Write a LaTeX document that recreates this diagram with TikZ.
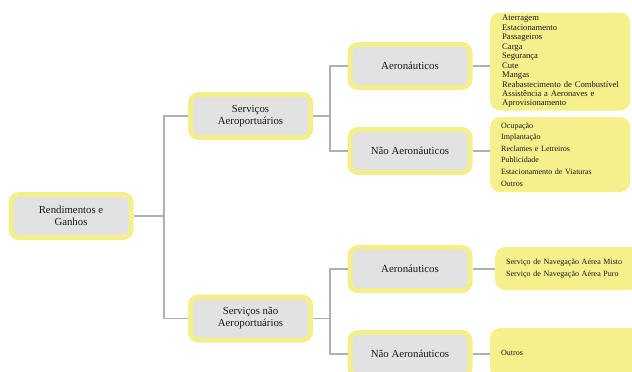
\documentclass[tikz,border=0pt]{standalone}
\usepackage{fontspec}
\setmainfont{Liberation Serif}
\definecolor{ybord}{HTML}{F5EE8C}
\definecolor{gfill}{HTML}{E2E2E2}
\definecolor{leaf}{HTML}{F5EF8C}
\definecolor{lgray}{HTML}{B0B0B0}
\definecolor{txt}{HTML}{1A1A1A}
\tikzset{
  catbox/.style={draw=ybord, line width=5pt, fill=gfill, rounded corners=8pt,
    minimum width=120pt, minimum height=43pt, align=center, text=txt,
    font=\fontsize{10.8}{12}\selectfont, inner sep=2pt},
  leafbox/.style={fill=leaf, rounded corners=10pt, draw=none, align=left, text=txt,
    anchor=west, inner ysep=0pt},
  conn/.style={draw=lgray, line width=1.1pt}
}
\begin{document}
\begin{tikzpicture}[x=1pt,y=1pt]
\useasboundingbox (0,0) rectangle (632,-372);
\clip (0,0) rectangle (632,-372);
% category boxes
\node[catbox] (root) at (71,-216) {Rendimentos e\\Ganhos};
\node[catbox] (sa) at (250.5,-116) {Serviços\\Aeroportuários};
\node[catbox] (sna) at (250.5,-318.5) {Serviços não\\Aeroportuários};
\node[catbox] (a1) at (410,-66) {Aeronáuticos};
\node[catbox] (na1) at (410,-151) {Não Aeronáuticos};
\node[catbox] (a2) at (410,-269) {Aeronáuticos};
\node[catbox] (na2) at (410,-354) {Não Aeronáuticos};
% leaves
\node[leafbox, minimum height=98pt, text width=116pt, inner xsep=12pt,
  font=\fontsize{8.6}{9.45}\selectfont] (l1) at (490,-61.5)
  {Aterragem\\Estacionamento\\Passageiros\\Carga\\Segurança\\Cute\\Mangas\\\mbox{Reabastecimento de Combustível}\\\mbox{Assistência a Aeronaves e}\\Aprovisionamento};
\node[leafbox, minimum height=75pt, text width=118pt, inner xsep=11pt,
  font=\fontsize{8}{11.6}\selectfont] (l2) at (490,-154.5)
  {Ocupação\\Implantação\\Reclames e Letreiros\\Publicidade\\Estacionamento de Viaturas\\Outros};
\node[leafbox, minimum height=43pt, text width=140pt, inner xsep=11pt,
  font=\fontsize{8}{12}\selectfont] (l3) at (495,-268.5)
  {Serviço de Navegação Aérea Misto\\Serviço de Navegação Aérea Puro};
\node[leafbox, minimum height=50pt, text width=140pt, inner xsep=11pt,
  font=\fontsize{8}{9.5}\selectfont] (l4) at (490,-353)
  {Outros};
% junctions
\coordinate (j0) at (164,-216);
\coordinate (j1) at (330,-116);
\coordinate (j2) at (330,-318.5);
% connectors
\draw[conn] (root.east) -- (j0) |- (sa.west);
\draw[conn] (j0) |- (sna.west);
\draw[conn] (sa.east) -- (j1) |- (a1.west);
\draw[conn] (j1) |- (na1.west);
\draw[conn] (sna.east) -- (j2) |- (a2.west);
\draw[conn] (j2) |- (na2.west);
\draw[conn] (a1.east) -- (l1.west |- a1.east);
\draw[conn] (na1.east) -- (l2.west |- na1.east);
\draw[conn] (a2.east) -- (l3.west |- a2.east);
\draw[conn] (na2.east) -- (l4.west |- na2.east);
\end{tikzpicture}
\end{document}
